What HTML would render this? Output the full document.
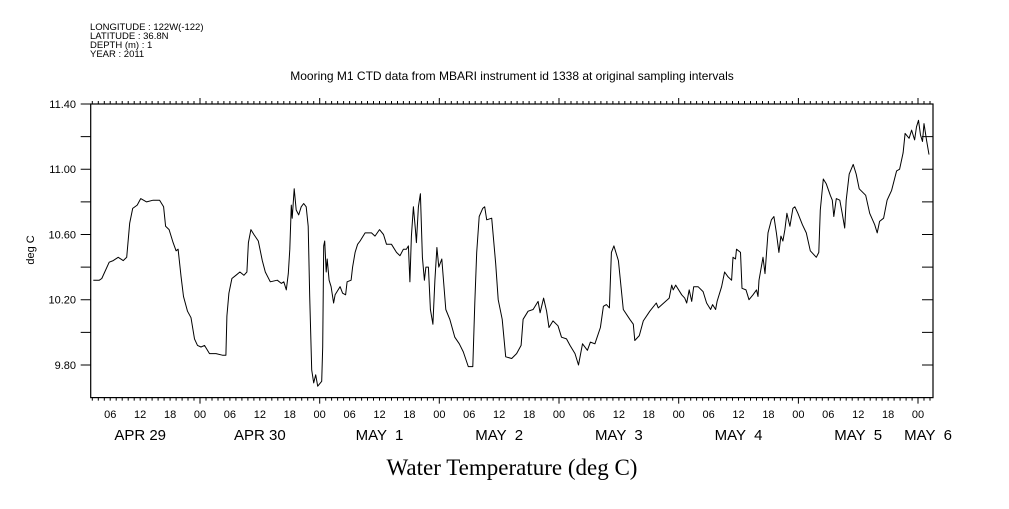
<!DOCTYPE html>
<html><head><meta charset="utf-8">
<style>
html,body{margin:0;padding:0;background:#fff;}
svg text{font-family:"Liberation Sans",sans-serif;fill:#000;}
</style></head>
<body>
<svg id="chart" width="1009" height="504" viewBox="0 0 1009 504" xmlns="http://www.w3.org/2000/svg">
<g font-size="9.5">
<text x="90" y="30">LONGITUDE : 122W(-122)</text>
<text x="90" y="39">LATITUDE : 36.8N</text>
<text x="90" y="48">DEPTH (m) : 1</text>
<text x="90" y="57">YEAR : 2011</text>
</g>
<text x="512" y="80" font-size="12" text-anchor="middle">Mooring M1 CTD data from MBARI instrument id 1338 at original sampling intervals</text>
<text x="0" y="0" font-size="11" text-anchor="middle" transform="translate(34,250) rotate(-90)">deg C</text>
<text x="512" y="475" font-size="23" text-anchor="middle" style="font-family:'Liberation Serif',serif">Water Temperature (deg C)</text>
<g id="axes"></g>
<g id="series"></g>
</svg>
<script>
const hours=[2.6,3.8,4.3,5.8,6.6,7.6,8.6,9.3,9.9,10.5,11.4,12.1,13.3,14.6,15.9,16.7,17.1,17.8,18.6,19.2,19.6,20.2,20.7,21.5,22.2,22.9,23.5,24.2,24.9,25.9,27.2,28.5,29.2,29.4,29.8,30.4,31.2,32.0,32.8,33.4,33.7,34.2,34.8,35.7,36.5,37.1,38.1,39.5,40.3,40.8,41.3,41.7,42.0,42.3,42.5,42.9,43.3,43.8,44.3,44.8,45.3,45.7,46.0,46.4,46.8,47.2,47.6,48.4,48.6,48.8,49.0,49.3,49.5,49.9,50.3,50.8,51.1,51.7,52.1,52.6,53.2,53.5,54.3,54.6,55.1,55.6,56.1,57.1,58.4,59.1,60.0,60.8,61.4,62.4,63.4,64.1,64.8,65.4,65.8,66.1,66.4,66.8,67.2,67.4,67.8,68.2,68.6,69.0,69.3,69.8,70.2,70.7,71.1,71.5,71.9,72.5,73.3,74.1,75.1,76.0,76.8,77.8,78.7,79.1,79.5,80.0,80.7,81.1,81.5,82.5,83.3,83.8,84.6,85.3,86.5,87.5,88.4,88.8,89.8,90.8,91.8,92.2,92.9,93.5,94.0,94.8,95.8,96.5,97.5,98.2,99.2,99.9,100.7,101.7,102.3,103.2,104.3,104.9,105.5,106.1,106.5,107.0,107.9,108.9,110.2,110.9,111.2,112.1,112.9,114.2,115.5,115.9,118.1,118.6,118.9,119.4,120.6,121.2,121.6,122.1,122.6,123.0,123.9,124.9,125.6,126.4,126.8,127.4,127.7,128.6,129.2,129.9,130.6,130.9,131.4,131.6,132.4,132.7,133.5,134.1,134.9,135.6,135.9,136.1,136.9,137.3,137.9,138.6,139.1,139.6,140.1,140.5,140.9,141.3,141.7,142.3,142.9,143.3,143.9,144.8,145.6,146.4,147.6,148.1,148.4,149.0,149.6,150.4,150.8,151.1,151.6,152.3,152.8,153.3,153.6,154.2,155.0,155.6,156.2,157.5,158.3,159.3,159.8,160.3,161.1,161.8,162.7,163.7,164.3,165.0,165.4,166.2,166.7,167.3,167.7,168.1,168.5,168.9,169.2,169.7,170.2];
const temps=[10.32,10.32,10.33,10.43,10.44,10.46,10.44,10.46,10.67,10.76,10.78,10.82,10.80,10.81,10.81,10.77,10.65,10.63,10.55,10.50,10.51,10.34,10.22,10.13,10.09,9.96,9.92,9.91,9.92,9.87,9.87,9.86,9.86,10.10,10.24,10.33,10.35,10.37,10.35,10.37,10.55,10.63,10.60,10.56,10.44,10.37,10.31,10.32,10.30,10.31,10.26,10.36,10.51,10.78,10.70,10.88,10.75,10.72,10.77,10.79,10.77,10.65,10.22,9.77,9.69,9.74,9.67,9.70,9.91,10.53,10.56,10.37,10.45,10.32,10.28,10.18,10.23,10.26,10.28,10.24,10.23,10.31,10.32,10.40,10.49,10.54,10.56,10.61,10.61,10.59,10.63,10.60,10.54,10.54,10.49,10.47,10.51,10.51,10.53,10.31,10.59,10.77,10.63,10.55,10.77,10.85,10.46,10.32,10.40,10.40,10.14,10.05,10.32,10.52,10.40,10.45,10.14,10.08,9.97,9.93,9.88,9.79,9.79,10.18,10.49,10.71,10.76,10.77,10.69,10.70,10.42,10.20,10.08,9.85,9.84,9.87,9.92,10.08,10.13,10.14,10.19,10.12,10.21,10.13,10.03,10.07,10.04,9.97,9.96,9.92,9.87,9.80,9.93,9.89,9.94,9.93,10.03,10.16,10.17,10.15,10.49,10.53,10.44,10.14,10.08,10.05,9.95,9.98,10.07,10.13,10.18,10.15,10.21,10.29,10.26,10.29,10.23,10.21,10.18,10.26,10.19,10.28,10.28,10.25,10.18,10.14,10.17,10.14,10.19,10.28,10.37,10.34,10.32,10.46,10.45,10.51,10.49,10.27,10.26,10.20,10.23,10.26,10.22,10.32,10.46,10.36,10.61,10.69,10.71,10.61,10.49,10.59,10.56,10.63,10.73,10.65,10.76,10.77,10.73,10.66,10.61,10.50,10.46,10.49,10.75,10.94,10.91,10.84,10.81,10.71,10.82,10.81,10.73,10.64,10.81,10.97,11.03,10.97,10.88,10.84,10.73,10.66,10.61,10.68,10.70,10.81,10.87,10.99,11.00,11.10,11.22,11.19,11.24,11.18,11.26,11.30,11.21,11.17,11.28,11.18,11.09];
const yTickValues=[11.40,11.00,10.60,10.20,9.80];
const yTickLabels=["11.40","11.00","10.60","10.20","9.80"];
const hourTickLabels=["06","12","18","00"];
const dayLabels=["APR 29","APR 30","MAY  1","MAY  2","MAY  3","MAY  4","MAY  5","MAY  6"];

const NS="http://www.w3.org/2000/svg";
const L=90.7,R=933,T=104,B=397.6;
const H0=2.08,H1=171.0,Y0=9.6,Y1=11.4;
const xs=h=>L+(h-H0)/(H1-H0)*(R-L);
const ys=v=>B-(v-Y0)/(Y1-Y0)*(B-T);
const axes=document.getElementById('axes');
function mk(tag,attrs,parent){const e=document.createElementNS(NS,tag);for(const k in attrs)e.setAttribute(k,attrs[k]);parent.appendChild(e);return e;}

const frame=mk('rect',{x:L,y:T,width:R-L,height:B-T,fill:'none',stroke:'#000','stroke-width':1.2},axes);



let tp='';
for(let i=0;i<=20*8;i++){
  const h=i*1.2; if(h<H0||h>H1) continue;
  const x=xs(h).toFixed(1);
  const major=(i%20===0);
  tp+=`M${x},${T}v${major?-6:-3}M${x},${B}v${major?6:3}`;
}
const xt=mk('path',{d:tp,stroke:'#000','stroke-width':1,fill:'none'},axes);



let yp='';
for(let v=9.8;v<=11.41;v+=0.2){const y=ys(v).toFixed(1);yp+=`M${L},${y}h-10M${R},${y}h-11`;}
const ytk=mk('path',{d:yp,stroke:'#000','stroke-width':1,fill:'none'},axes);



yTickValues.forEach((v,i)=>{
  const t=mk('text',{x:76,y:ys(v)+4,'font-size':11,'text-anchor':'end'},axes);
  t.textContent=yTickLabels[i];
  
  
});
for(let h=6;h<=168;h+=6){
  const t=mk('text',{x:xs(h),y:418,'font-size':11,'text-anchor':'middle'},axes);
  t.textContent=hourTickLabels[(h/6-1)%4];
  
  
}
dayLabels.forEach((d,i)=>{
  const cx=i<7?xs(i*24+12):xs(i*24)+10;
  const t=mk('text',{x:cx,y:440,'font-size':15,'text-anchor':'middle','xml:space':'preserve'},axes);
  t.setAttribute('style','white-space:pre');
  t.textContent=d;
  
  
});

const pts=hours.map((h,i)=>xs(h).toFixed(1)+','+ys(temps[i]).toFixed(1)).join(' ');
const line=mk('polyline',{points:pts,fill:'none',stroke:'#000','stroke-width':1,'stroke-linejoin':'round'},document.getElementById('series'));


</script>
</body></html>
